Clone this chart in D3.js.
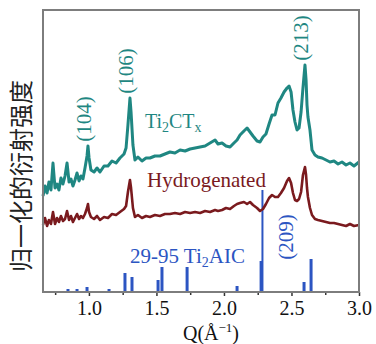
<!DOCTYPE html>
<html>
<head>
<meta charset="utf-8">
<script src="https://cdn.jsdelivr.net/npm/d3@7"></script>
<style>
  html, body { margin: 0; padding: 0; background: #ffffff; }
  svg { display: block; }
</style>
</head>
<body>
<div id="chart"></div>
<script>
// Q grid (Å^-1) shared by both measured patterns
const qGrid = [
  0.660, 0.675, 0.690, 0.704, 0.719, 0.734, 0.749, 0.764, 0.778, 0.793,
  0.808, 0.823, 0.838, 0.853, 0.867, 0.882, 0.897, 0.912, 0.927, 0.941,
  0.956, 0.971, 0.986, 0.993, 1.001, 1.015, 1.038, 1.060, 1.082, 1.112,
  1.141, 1.171, 1.201, 1.230, 1.260, 1.275, 1.289, 1.304, 1.312, 1.326,
  1.341, 1.363, 1.393, 1.423, 1.452, 1.489, 1.526, 1.563, 1.600, 1.637,
  1.675, 1.712, 1.749, 1.786, 1.823, 1.860, 1.897, 1.934, 1.956, 1.986,
  2.015, 2.045, 2.074, 2.097, 2.119, 2.148, 2.171, 2.193, 2.215, 2.245,
  2.267, 2.289, 2.311, 2.334, 2.356, 2.378, 2.400, 2.422, 2.445, 2.467,
  2.482, 2.497, 2.511, 2.526, 2.541, 2.556, 2.571, 2.585, 2.600, 2.608,
  2.615, 2.622, 2.637, 2.652, 2.674, 2.696, 2.726, 2.756, 2.785, 2.815,
  2.845, 2.874, 2.904, 2.933, 2.963, 3.000
]

// normalised intensity (a.u.), Ti2CTx
const ti2ctx = [
  96, 106, 99, 110, 102, 129, 104, 108, 102, 114,
  108, 116, 129, 110, 113, 106, 112, 119, 111, 116,
  113, 124, 136, 146, 134, 122, 120, 124, 120, 126,
  126, 131, 129, 134, 138, 144, 167, 194, 180, 147,
  132, 135, 131, 134, 134, 136, 136, 138, 140, 139,
  142, 141, 143, 144, 145, 146, 149, 152, 148, 149,
  146, 145, 149, 152, 157, 161, 164, 160, 156, 151,
  150, 155, 158, 168, 177, 177, 189, 194, 200, 204,
  206, 200, 182, 170, 162, 164, 180, 204, 227, 212,
  187, 175, 162, 142, 137, 135, 134, 132, 130, 131,
  128, 130, 127, 129, 126, 130
]

// normalised intensity (a.u.), hydrogenated sample
const hydrogenated = [
  67, 74, 66, 72, 68, 80, 68, 74, 70, 76,
  71, 73, 81, 72, 76, 70, 74, 78, 73, 76,
  74, 78, 84, 88, 80, 75, 73, 76, 72, 75,
  74, 78, 77, 80, 83, 86, 100, 112, 104, 84,
  75, 77, 74, 76, 75, 77, 76, 78, 78, 79,
  78, 80, 79, 80, 79, 81, 80, 82, 81, 82,
  84, 83, 86, 88, 89, 90, 88, 90, 87, 84,
  81, 83, 88, 94, 97, 95, 95, 99, 104, 111,
  114, 109, 99, 92, 91, 93, 100, 117, 125, 117,
  104, 95, 84, 77, 73, 72, 71, 70, 69, 69,
  68, 67, 66, 68, 66, 67
]

// reference pattern 29-95 Ti2AlC (stick positions / heights)
const refQ = [0.845, 0.912, 0.986, 1.149, 1.267, 1.319, 1.512, 1.541, 1.727, 2.097, 2.275, 2.285, 2.593, 2.645]
const refI = [3, 3, 5, 3, 19, 15, 12, 25, 25, 6, 31, 102, 10, 33]

const xTicks = [1.0, 1.5, 2.0, 2.5, 3.0]
const xMinorTicks = [0.75, 1.25, 1.75, 2.25, 2.75]

const peakNames = ['(104)', '(106)', '(213)']
const peakQ = [0.993, 1.304, 2.600]

const tealColor = '#1f8782'
const redColor = '#7a1a1e'
const blueColor = '#2c55c2'
const serif = "'Liberation Serif', 'Times New Roman', serif"

const width = 376
const height = 344
const margin = { top: 10, right: 17, bottom: 52, left: 43 }

const svg = d3
  .select('#chart')
  .append('svg')
  .attr('width', width)
  .attr('height', height)

const x = d3
  .scaleLinear()
  .domain([0.66, 3.0])
  .range([margin.left, width - margin.right])

const y = d3
  .scaleLinear()
  .domain([0, 282])
  .range([height - margin.bottom, margin.top])

// bottom axis: major + minor ticks
const xAxis = (g) => {
  g.attr('transform', `translate(0, ${height - margin.bottom})`)
    .call(
      d3.axisBottom(x)
        .tickValues(xTicks)
        .tickFormat(d3.format('.1f'))
        .tickSize(4)
        .tickPadding(5)
        .tickSizeOuter(0)
    )
    .call((g) => g.select('.domain').remove())
    .call((g) => g.selectAll('.tick>line').attr('stroke', '#333').attr('stroke-width', 1.5))
    .call((g) =>
      g.selectAll('.tick>text')
        .attr('fill', '#111')
        .style('font-family', serif)
        .style('font-size', '20px')
    )
}

const xMinorAxis = (g) => {
  g.attr('transform', `translate(0, ${height - margin.bottom})`)
    .call(d3.axisBottom(x).tickValues(xMinorTicks).tickFormat('').tickSize(3).tickSizeOuter(0))
    .call((g) => g.select('.domain').remove())
    .call((g) => g.selectAll('.tick>line').attr('stroke', '#333').attr('stroke-width', 1.5))
}

svg.append('g').call(xMinorAxis)
svg.append('g').call(xAxis)

// reference sticks
svg
  .append('g')
  .selectAll('line')
  .data(refQ.map((q, i) => ({ q, v: refI[i] })))
  .join('line')
  .attr('x1', (d) => x(d.q))
  .attr('x2', (d) => x(d.q))
  .attr('y1', y(0))
  .attr('y2', (d) => y(d.v))
  .attr('stroke', blueColor)
  .attr('stroke-width', (d) => (d.v > 60 ? 2 : 3))

const lineOf = (values) =>
  d3.line()
    .x((d, i) => x(qGrid[i]))
    .y((d) => y(d))(values)

svg
  .append('path')
  .attr('d', lineOf(hydrogenated))
  .attr('fill', 'none')
  .attr('stroke', redColor)
  .attr('stroke-width', 2.6)
  .attr('stroke-linejoin', 'round')

svg
  .append('path')
  .attr('d', lineOf(ti2ctx))
  .attr('fill', 'none')
  .attr('stroke', tealColor)
  .attr('stroke-width', 3)
  .attr('stroke-linejoin', 'round')

// frame
svg
  .append('rect')
  .attr('x', x.range()[0])
  .attr('y', y.range()[1])
  .attr('width', x.range()[1] - x.range()[0])
  .attr('height', y.range()[0] - y.range()[1])
  .attr('fill', 'none')
  .attr('stroke', '#7d7d7d')
  .attr('stroke-width', 2)

// peak labels, rotated
peakNames.forEach((name, k) => {
  const idx = d3.minIndex(qGrid, (q) => Math.abs(q - peakQ[k]))
  const px = x(peakQ[k]) - 4
  const py = y(ti2ctx[idx]) - 27
  svg
    .append('text')
    .attr('transform', `translate(${px}, ${py}) rotate(-90)`)
    .attr('text-anchor', 'middle')
    .attr('dy', '0.35em')
    .attr('fill', tealColor)
    .style('font-family', serif)
    .style('font-size', '21px')
    .text(name)
})

svg
  .append('text')
  .attr('transform', `translate(${x(2.459)}, ${y(55)}) rotate(-90)`)
  .attr('text-anchor', 'middle')
  .attr('dy', '0.35em')
  .attr('fill', blueColor)
  .style('font-family', serif)
  .style('font-size', '21px')
  .text('(209)')

// series labels
const tiLabel = svg
  .append('text')
  .attr('x', x(1.415))
  .attr('y', y(164))
  .attr('fill', tealColor)
  .style('font-family', serif)
  .style('font-size', '20px')
tiLabel.append('tspan').text('Ti')
tiLabel.append('tspan').attr('dy', 4).style('font-size', '14px').text('2')
tiLabel.append('tspan').attr('dy', -4).text('CT')
tiLabel.append('tspan').attr('dy', 4).style('font-size', '14px').text('x')

svg
  .append('text')
  .attr('x', x(1.43))
  .attr('y', y(105))
  .attr('fill', redColor)
  .style('font-family', serif)
  .style('font-size', '21px')
  .text('Hydrogenated')

const refLabel = svg
  .append('text')
  .attr('x', x(1.304))
  .attr('y', y(29))
  .attr('fill', blueColor)
  .style('font-family', serif)
  .style('font-size', '21px')
refLabel.append('tspan').text('29-95 Ti')
refLabel.append('tspan').attr('dy', 4).style('font-size', '14px').text('2')
refLabel.append('tspan').attr('dy', -4).text('AIC')

// axis titles
const xTitle = svg
  .append('text')
  .attr('x', 211)
  .attr('y', 340)
  .attr('text-anchor', 'middle')
  .attr('fill', '#111')
  .style('font-family', serif)
  .style('font-size', '20px')
xTitle.append('tspan').text('Q(Å')
xTitle.append('tspan').attr('dy', -8).style('font-size', '13px').text('−1')
xTitle.append('tspan').attr('dy', 8).text(')')

svg
  .append('text')
  .attr('transform', `translate(22, 176) rotate(-90)`)
  .attr('text-anchor', 'middle')
  .attr('dy', '0.35em')
  .attr('fill', '#222')
  .style('font-family', "'Noto Sans CJK SC', sans-serif")
  .style('font-size', '24px')
  .text('归一化的衍射强度')
</script>
</body>
</html>
